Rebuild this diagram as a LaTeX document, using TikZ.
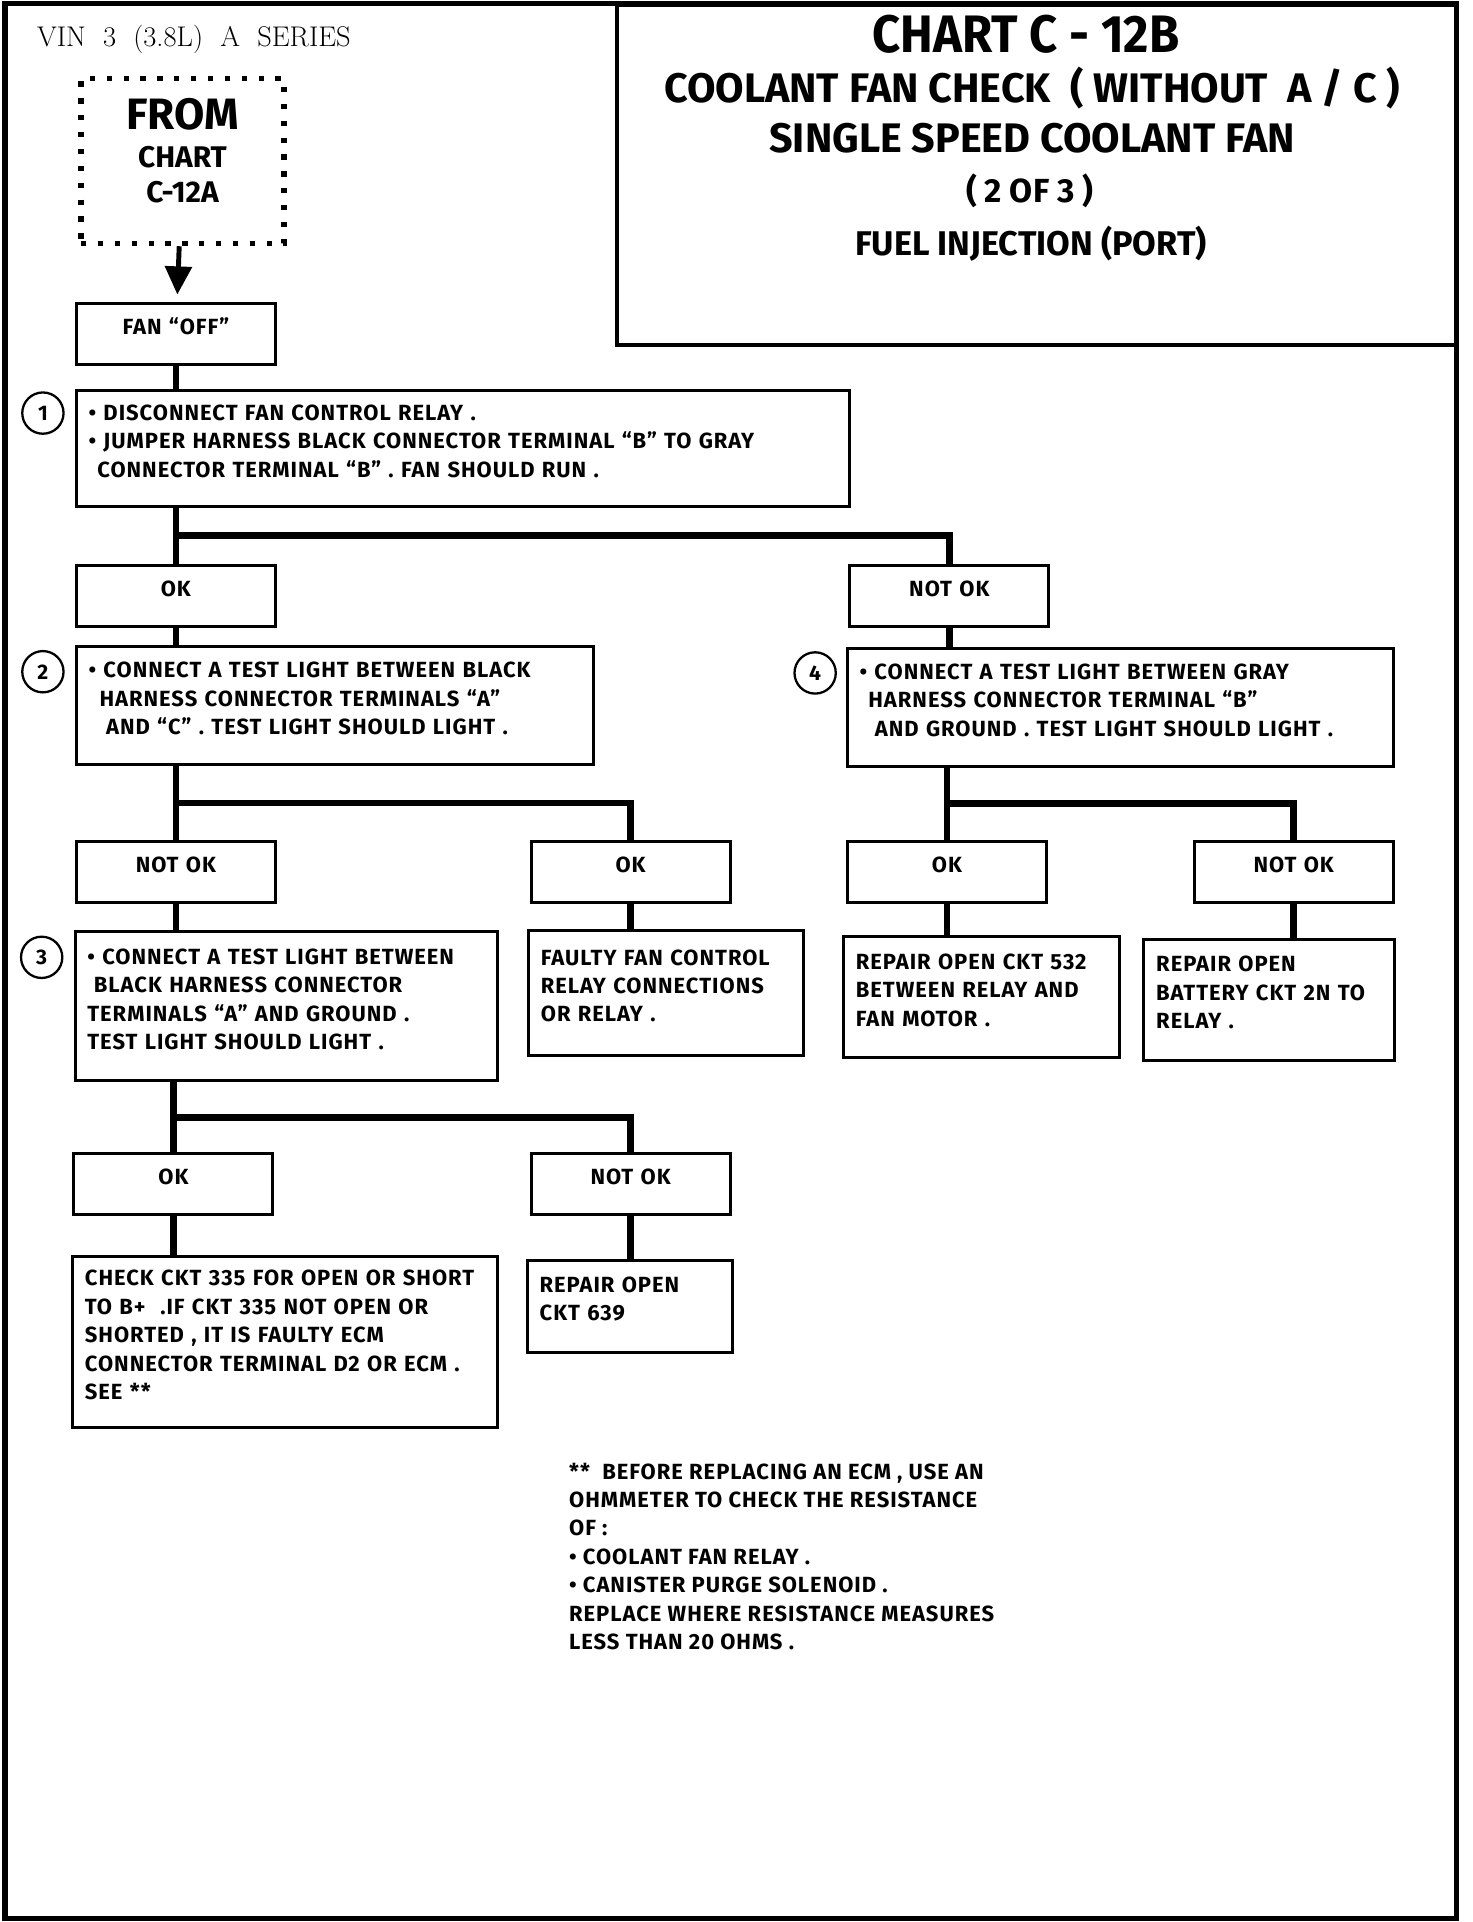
\documentclass[tikz,border=0pt]{standalone}
\usepackage{fontspec}
\usetikzlibrary{positioning,arrows.meta,calc}
\newfontfamily\chartfont[LetterSpace=4.5]{Fira Sans}
\newfontfamily\headfont{Fira Sans}
\newfontfamily\narrowfont[FakeStretch=0.93]{Fira Sans}
\tikzset{
  wh/.code 2 args={\pgfmathsetmacro\boxw{#1*0.6955}\pgfmathsetmacro\boxh{#2*0.6955}%
    \pgfmathsetmacro\boxt{#1*0.6955-14}%
    \tikzset{minimum width=\boxw pt,minimum height=\boxh pt,text width=\boxt pt}},
  box/.style={draw,line width=1.7pt,anchor=north west,inner xsep=7pt,inner ysep=0pt,
    align=left,font=\chartfont\bfseries\fontsize{12.5}{16.2}\selectfont,
    execute at end node={\par\vskip 8pt\hrule height 0pt}},
  okbox/.style={box,align=center,wh={163}{50}},
  stepnum/.style={circle,draw,line width=1.3pt,minimum size=23.5pt,inner sep=0pt,
    font=\chartfont\bfseries\fontsize{12}{12}\selectfont},
  link/.style={line width=3.8pt},
  flow/.style={line width=2.8pt,-{Triangle[length=16pt,width=15pt]},shorten >=4pt},
  fromstyle/.style={draw,line width=3pt,dash pattern=on 3pt off 6.6pt,anchor=north west,
    align=center,inner sep=0pt,font=\headfont\bfseries},
  headline/.style={font=\headfont\bfseries,inner sep=0pt},
  notetext/.style={anchor=north west,inner sep=0pt,align=left,
    font=\chartfont\bfseries\fontsize{12.5}{16.2}\selectfont}
}
\begin{document}
\begin{tikzpicture}[x=0.024514cm,y=-0.024514cm]
  \useasboundingbox (0,0) rectangle (1201,1568);
  \draw[line width=3pt] (4,3) rectangle (1188,1565);

  % heading
  \node[draw,line width=1.8pt,anchor=north west,wh={686}{278}] (titlebox) at (502,3) {};
  \node[headline] (title1) at (837,28) {\narrowfont\fontsize{30}{30}\selectfont CHART C - 12B};
  \node[headline] (title2) at (842,72) {\fontsize{23.5}{23.5}\selectfont COOLANT FAN CHECK\ \ ( WITHOUT\ \ A / C )};
  \node[headline] (title3) at (842,113) {\fontsize{23.5}{23.5}\selectfont SINGLE SPEED COOLANT FAN};
  \node[headline] (title4) at (840,156) {\fontsize{19}{19}\selectfont ( 2 OF 3 )};
  \node[headline] (title5) at (841,199) {\fontsize{19.5}{19.5}\selectfont FUEL INJECTION (PORT)};
  \node[anchor=west,inner sep=0pt,font=\fontsize{16.2}{19}\selectfont] (vin) at (30,32) {VIN\ \ 3\ \ (3.8L)\ \ A\ \ SERIES};

  \node[fromstyle,wh={166}{135}] (fromchart) at (64,62)
    {{\fontsize{25}{30}\selectfont FROM\par}\vspace{2pt}{\fontsize{17}{20}\selectfont CHART\par C-12A\par}\vskip 12pt\hrule height 0pt};
  \node[okbox] (fanoff) at (61,246) {FAN “OFF”};

  % step 1
  \node[box,wh={633}{95}] (disconnect) at (61,317)
    {• DISCONNECT FAN CONTROL RELAY .\\
     • JUMPER HARNESS BLACK CONNECTOR TERMINAL “B” TO GRAY\\
     \hspace*{0.4em}CONNECTOR TERMINAL “B” . FAN SHOULD RUN .};
  \node[stepnum] (n1) at (35,337) {1};
  \node[okbox] (okA) at (61,460) {OK};
  \node[okbox] (notokA) at (692,460) {NOT OK};

  % step 2
  \node[box,wh={423}{97}] (blacktest) at (61,526)
    {• CONNECT A TEST LIGHT BETWEEN BLACK\\
     \hspace*{0.5em}HARNESS CONNECTOR TERMINALS “A”\\
     \hspace*{0.8em}AND “C” . TEST LIGHT SHOULD LIGHT .};
  \node[stepnum] (n2) at (35,548) {2};
  \node[okbox] (notokB) at (61,685) {NOT OK};
  \node[okbox] (okB) at (432,685) {OK};

  % step 4
  \node[box,wh={447}{96}] (graytest) at (690,528)
    {• CONNECT A TEST LIGHT BETWEEN GRAY\\
     \hspace*{0.4em}HARNESS CONNECTOR TERMINAL “B”\\
     \hspace*{0.7em}AND GROUND . TEST LIGHT SHOULD LIGHT .};
  \node[stepnum] (n4) at (665,549) {4};
  \node[okbox] (okC) at (690,685) {OK};
  \node[okbox] (notokC) at (973,685) {NOT OK};

  % step 3
  \node[box,wh={346}{122}] (groundtest) at (60,759)
    {• CONNECT A TEST LIGHT BETWEEN\\
     \hspace*{0.3em}BLACK HARNESS CONNECTOR\\
     TERMINALS “A” AND GROUND .\\
     TEST LIGHT SHOULD LIGHT .};
  \node[stepnum] (n3) at (34,781) {3};
  \node[box,wh={225}{102}] (faulty) at (430,758)
    {FAULTY FAN CONTROL\\ RELAY CONNECTIONS\\ OR RELAY .};
  \node[box,wh={226}{99}] (repairfan) at (687,763)
    {REPAIR OPEN CKT 532\\ BETWEEN RELAY AND\\ FAN MOTOR .};
  \node[box,wh={205}{99}] (repairbat) at (932,765)
    {REPAIR OPEN\\ BATTERY CKT 2N TO\\ RELAY .};
  \node[okbox] (okD) at (59,940) {OK};
  \node[okbox] (notokD) at (432,940) {NOT OK};
  \node[box,wh={348}{140}] (checkckt) at (58,1024)
    {CHECK CKT 335 FOR OPEN OR SHORT\\
     TO B+\ \ .IF CKT 335 NOT OPEN OR\\
     SHORTED , IT IS FAULTY ECM\\
     CONNECTOR TERMINAL D2 OR ECM .\\
     SEE **};
  \node[box,wh={168}{75}] (repairecm) at (429,1027)
    {REPAIR OPEN\\ CKT 639};

  \node[notetext] (note) at (464,1193)
    {**\ \ BEFORE REPLACING AN ECM , USE AN\\
     OHMMETER TO CHECK THE RESISTANCE\\
     OF :\\
     • COOLANT FAN RELAY .\\
     • CANISTER PURGE SOLENOID .\\
     REPLACE WHERE RESISTANCE MEASURES\\
     LESS THAN 20 OHMS .};

  % connectors
  \draw[flow] (fromchart) -- (fanoff);
  \draw[link] (fanoff) -- (fanoff |- disconnect.north);
  \draw[link] (disconnect.south -| okA) -- (okA);
  \draw[link] ($(disconnect.south -| okA)!0.5!(okA.north)$) -| (notokA);
  \draw[link] (okA) -- (okA |- blacktest.north);
  \draw[link] (notokA) -- (notokA |- graytest.north);
  \draw[link] (blacktest.south -| notokB) -- (notokB);
  \draw[link] ($(blacktest.south -| notokB)!0.5!(notokB.north)$) -| (okB);
  \draw[link] (graytest.south -| okC) -- (okC);
  \draw[link] ($(graytest.south -| okC)!0.5!(okC.north)$) -| (notokC);
  \draw[link] (notokB) -- (notokB |- groundtest.north);
  \draw[link] (okB) -- (okB |- faulty.north);
  \draw[link] (okC) -- (okC |- repairfan.north);
  \draw[link] (notokC) -- (notokC |- repairbat.north);
  \draw[link] (groundtest.south -| okD) -- (okD);
  \draw[link] ($(groundtest.south -| okD)!0.5!(okD.north)$) -| (notokD);
  \draw[link] (okD) -- (okD |- checkckt.north);
  \draw[link] (notokD) -- (notokD |- repairecm.north);
\end{tikzpicture}
\end{document}
